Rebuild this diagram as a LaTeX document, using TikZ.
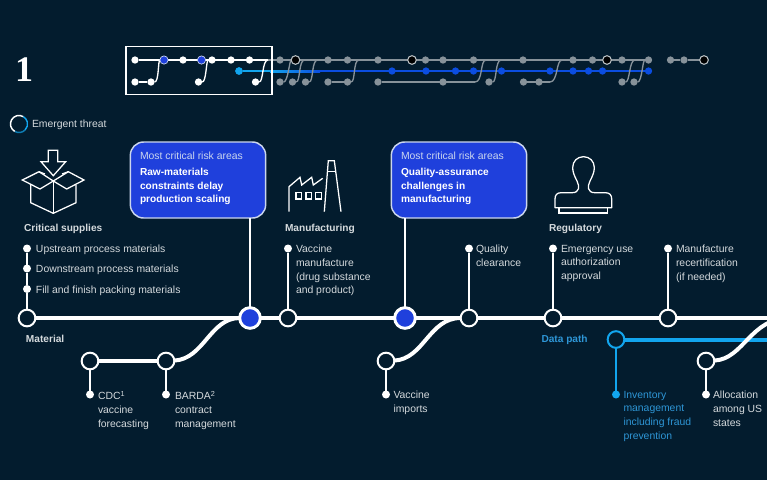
\documentclass[tikz,border=0pt]{standalone}
\usetikzlibrary{backgrounds}
\usepackage{fontspec}
\setmainfont{Liberation Sans}
\newfontfamily\serifnum{Liberation Serif}
\definecolor{bgc}{HTML}{031C2E}
\definecolor{txtc}{HTML}{D5DADD}
\definecolor{cyanc}{HTML}{12A5EE}
\definecolor{cyant}{HTML}{2E96D6}
\definecolor{boxc}{HTML}{1F40DC}
\definecolor{mmgrey}{HTML}{87929A}
\definecolor{mmblue}{HTML}{0B4DE0}
\definecolor{edgec}{HTML}{CBD6EE}
\tikzset{
  every node/.style={inner sep=0,outer sep=0},
  ring/.style={circle,draw=white,fill=bgc,line width=1.5pt,minimum size=12.5pt},
  bluering/.style={circle,draw=white,fill=boxc,line width=2.2pt,minimum size=15.5pt},
  cring/.style={circle,draw=cyanc,fill=bgc,line width=1.5pt,minimum size=12.5pt},
  dotw/.style={circle,fill=white,minimum size=6pt},
  dotc/.style={circle,fill=cyanc,minimum size=6pt},
  mainline/.style={white,line width=3pt},
  stem/.style={white,line width=1.4pt},
  lbl/.style={anchor=north west,align=left,text=txtc,font=\fontsize{7.8}{10.3}\selectfont},
  lblb/.style={anchor=north west,align=left,text=txtc,font=\fontsize{7.6}{10.3}\selectfont\bfseries},
  lblc/.style={lbl,text=cyant},
  riskbox/.style={draw=edgec,fill=boxc,line width=1.1pt,rounded corners=10pt,minimum width=101.5pt,minimum height=57pt},
  icon/.style={white,line width=0.95pt,line join=miter},
  mw/.style={circle,fill=white,minimum size=5.5pt},
  mg/.style={circle,fill=mmgrey,minimum size=5.5pt},
  mb/.style={circle,fill=mmblue,minimum size=5.5pt},
  mc/.style={circle,fill=cyanc,minimum size=5.8pt},
  mhot/.style={circle,fill=boxc,draw=edgec,line width=0.5pt,minimum size=6.2pt},
  mring/.style={circle,fill=black,draw=mmgrey!60!white,line width=0.8pt,minimum size=6.5pt},
  wl/.style={white,line width=1pt},
  gl/.style={mmgrey,line width=1pt},
}
\newcommand{\scurve}[2]{(#1) .. controls +(8,0) and +(-6,0) .. (#2)}
\begin{document}
\begin{tikzpicture}[x=0.75pt,y=-0.75pt]
\useasboundingbox (0,0) rectangle (767,480);

% ---------- minimap
\node[anchor=center,text=white,font=\fontsize{27}{27}\selectfont\serifnum\bfseries] (one) at (24,70) {1};
\foreach \n/\x in {t1/135,t3/183,t5/212,t6/231,t7/249.5}
  \node[mw] (\n) at (\x,60) {};
\node[mhot] (t2) at (164,60) {};
\node[mhot] (t4) at (201.5,60) {};
\foreach \n/\x in {t8/280,t10/328,t11/347.5,t12/378,t14/425.5,t15/443,t16/473.5,t17/523,t18/573,t19/592.5,t21/622,t22/648.5,u1/670.5,u2/684}
  \node[mg] (\n) at (\x,60) {};
\node[mring] (t9) at (295.5,60) {};
\node[mring] (t13) at (412,60) {};
\node[mring] (t20) at (607,60) {};
\node[mring] (u3) at (704,60) {};
\coordinate (ts) at (268,60);
\coordinate (c2) at (304.5,60);
\coordinate (c2b) at (317.5,60);
\coordinate (c3) at (359,60);
\coordinate (c4) at (486,60);
\coordinate (c5) at (501,60);
\coordinate (c6) at (562,60);
\coordinate (c7) at (635,60);
\foreach \n/\x in {b1/135,b2/151,b3/198.5,b4/255.5}
  \node[mw] (\n) at (\x,82) {};
\foreach \n/\x in {b5/280,b6/292.5,b7/305.5,b8/328,b9/347.5,b10/378,b11/443,b12/489,b13/523.5,b14/539,b15/622,b16/634}
  \node[mg] (\n) at (\x,82) {};
\coordinate (bk1) at (475,82);
\coordinate (bk2) at (550,82);
\node[mc] (m0) at (239,71) {};
\coordinate (mA) at (270,71);
\coordinate (mB) at (320,71);
\foreach \n/\x in {m1/392,m2/426,m3/455.5,m4/473.5,m5/501.5,m6/550,m7/573,m8/588.5,m9/602.5,m10/648.5}
  \node[mb] (\n) at (\x,71) {};
\begin{pgfonlayer}{background}
\fill[bgc] (0,0) rectangle (767,480);
\draw[cyanc,line width=1.3pt] (m0) -- (mA);
\shade[left color=cyanc,right color=mmblue] (270,70) rectangle (320,72);
\draw[mmblue,line width=1.5pt] (mB) -- (m10);
\draw[gl] (ts) -- (t22);
\draw[gl] (u1) -- (u2) -- (u3);
\draw[wl] (t1) -- (ts);
\draw[wl] (b1) -- (b2);
\draw[gl] (b8) -- (b9);
\draw[gl] (b10) -- (bk1);
\draw[gl] (b13) -- (bk2);
\draw[wl] \scurve{b2}{t2};
\draw[wl] \scurve{b3}{t5};
\draw[wl] \scurve{b4}{ts};
\draw[gl] \scurve{b5}{t9};
\draw[gl] \scurve{b6}{c2};
\draw[gl] \scurve{b7}{c2b};
\draw[gl] \scurve{b9}{c3};
\draw[gl] \scurve{bk1}{c4};
\draw[gl] \scurve{b12}{c5};
\draw[gl] \scurve{bk2}{c6};
\draw[gl] \scurve{b15}{c7};
\draw[gl] \scurve{b16}{t22};
\end{pgfonlayer}
\node[draw=white,line width=1.4pt,minimum width=109pt,minimum height=36pt] (frame) at (199,70.5) {};

% ---------- legend
\node[circle,minimum size=12.8pt] (threat) at (19,124) {};
\draw[cyanc,line width=1.1pt] (threat.center) ++(-45:6.4pt) arc[start angle=-45,end angle=60,radius=6.4pt];
\draw[cyanc!75!black,line width=1.1pt] (threat.center) ++(-120:6.4pt) arc[start angle=-120,end angle=-45,radius=6.4pt];
\draw[white,line width=1.1pt] (threat.center) ++(60:6.4pt) arc[start angle=60,end angle=240,radius=6.4pt];
\node[lbl,anchor=west] (threatlabel) at (32,125) {Emergent threat};

% ---------- main track
\node[ring] (mat) at (27,318) {};
\node[bluering] (n1) at (250,318) {};
\node[ring] (n2) at (288,318) {};
\node[bluering] (n3) at (405,318) {};
\node[ring] (n4) at (469,318) {};
\node[ring] (n5) at (553,318) {};
\node[ring] (n6) at (668,318) {};
\coordinate (endm) at (775,318);
\coordinate (endc) at (790,318);
\node[ring] (l1) at (90,361) {};
\node[ring] (l2) at (166,361) {};
\node[ring] (l3) at (386,361) {};
\node[ring] (l4) at (706,361) {};
\node[cring] (dp) at (616,339.5) {};
\coordinate (endd) at (775,339.5);
\draw[cyanc,line width=3pt] (dp) -- (endd);
\draw[mainline] (mat) -- (n1);
\draw[mainline] (n1) -- (n2);
\draw[mainline] (n2) -- (n3);
\draw[mainline] (n3) -- (n4);
\draw[mainline] (n4) -- (n5);
\draw[mainline] (n5) -- (n6);
\draw[mainline] (n6) -- (endm);
\draw[mainline] (l1) -- (l2);
\draw[mainline] (l2) .. controls +(38,-2) and +(-40,0) .. (n1);
\draw[mainline] (l3) .. controls +(38,-2) and +(-40,0) .. (n4);
\draw[mainline] (l4) .. controls +(38,-2) and +(-40,0) .. (endc);

% ---------- risk boxes
\node[riskbox] (box1) at (198,180) {};
\node[riskbox] (box2) at (459,180) {};
\draw[stem] (n1) -- (n1 |- box1.south);
\draw[stem] (n3) -- (n3 |- box2.south);
\node[lbl,text=edgec] (b1a) at (140,152) {Most critical risk areas};
\node[lblb,text=white] (b1b) at (140,168) {Raw-materials\\constraints delay\\production scaling};
\node[lbl,text=edgec] (b2a) at (401,152) {Most critical risk areas};
\node[lblb,text=white] (b2b) at (401,168) {Quality-assurance\\challenges in\\manufacturing};

% ---------- upper stems and labels
\node[dotw] (s1) at (27,248.5) {};
\node[dotw] (s2) at (27,268.5) {};
\node[dotw] (s3) at (27,289) {};
\draw[stem] (s1) -- (s2);
\draw[stem] (s2) -- (s3);
\draw[stem] (s3) -- (mat);
\node[dotw] (s4) at (288,248.5) {};
\node[dotw] (s5) at (469,248.5) {};
\node[dotw] (s6) at (553,248.5) {};
\node[dotw] (s7) at (668,248.5) {};
\draw[stem] (s4) -- (n2);
\draw[stem] (s5) -- (n4);
\draw[stem] (s6) -- (n5);
\draw[stem] (s7) -- (n6);
\node[lblb] (h1) at (24,224.5) {Critical supplies};
\node[lbl] (x1) at (36,245) {Upstream process materials};
\node[lbl] (x2) at (36,265) {Downstream process materials};
\node[lbl] (x3) at (36,285.5) {Fill and finish packing materials};
\node[lblb] (h2) at (285,224.5) {Manufacturing};
\node[lbl] (x4) at (296,245) {Vaccine\\manufacture\\(drug substance\\and product)};
\node[lbl] (x5) at (476,245) {Quality\\clearance};
\node[lblb] (h3) at (549,224.5) {Regulatory};
\node[lbl] (x6) at (561,245) {Emergency use\\authorization\\approval};
\node[lbl] (x7) at (676,245) {Manufacture\\recertification\\(if needed)};

% ---------- lower stems and labels
\node[lblb] (h4) at (26,335.5) {Material};
\node[lblb,text=cyant] (h5) at (541.5,335.5) {Data path};
\node[dotw] (d1) at (90,394.5) {};
\node[dotw] (d2) at (166,394.5) {};
\node[dotw] (d3) at (386,394.5) {};
\node[dotc] (d4) at (616,394.5) {};
\node[dotw] (d5) at (706,394.5) {};
\draw[stem] (l1) -- (d1);
\draw[stem] (l2) -- (d2);
\draw[stem] (l3) -- (d3);
\draw[cyanc,line width=1.4pt] (dp) -- (d4);
\draw[stem] (l4) -- (d5);
\node[lbl] (y1) at (98,391) {CDC\textsuperscript{1}\\vaccine\\forecasting};
\node[lbl] (y2) at (175,391) {BARDA\textsuperscript{2}\\contract\\management};
\node[lbl] (y3) at (393.5,391) {Vaccine\\imports};
\node[lblc] (y4) at (623.5,391) {Inventory\\management\\including fraud\\prevention};
\node[lbl] (y5) at (713,391) {Allocation\\among US\\states};

% ---------- icons
\draw[icon] (48.3,150.3) -- (57.7,150.3) -- (57.7,161.7) -- (65.7,161.7) -- (53.3,175.7) -- (41,161.7) -- (48.3,161.7) -- cycle;
\draw[icon] (53.3,181) -- (40,189) -- (22.3,180) -- (39,171.7) -- (45,174);
\draw[icon] (53.3,181) -- (66.7,189) -- (84,180) -- (68.3,171.7) -- (62,174);
\draw[icon] (39,171.7) -- (53.3,181) -- (68.3,171.7);
\draw[icon] (30.7,185) -- (30.7,202.7) -- (53.3,213.3) -- (76,202.7) -- (76,185);
\draw[icon] (53.3,181) -- (53.3,213.3);
\draw[icon] (289,211.7) -- (289,186.7) -- (300,177.3) -- (301.7,185) -- (311.7,177.3) -- (313.3,185) -- (322.7,178.3);
\draw[icon] (296,192.7) rectangle (301.7,199);
\draw[icon] (306,192.7) rectangle (311.7,199);
\draw[icon] (315.7,192.7) rectangle (321.3,199);
\draw[icon] (324.3,211.7) -- (328.3,160.7) -- (334.3,160.7) -- (341,211.7);
\draw[icon] (327.5,171.7) -- (335.5,171.7);
\draw[icon,line join=round] (555,207.7) -- (555,199) .. controls (555,195) and (557,192.7) .. (561,192.7)
  -- (572,192.7) .. controls (580,192.7) and (579.5,186) .. (577,181)
  .. controls (574,175) and (572.7,172) .. (572.7,167.5)
  .. controls (572.7,161) and (577.5,156.7) .. (583.5,156.7)
  .. controls (589.5,156.7) and (594.3,161) .. (594.3,167.5)
  .. controls (594.3,172) and (593,175) .. (590,181)
  .. controls (587.5,186) and (587,192.7) .. (595,192.7)
  -- (605.5,192.7) .. controls (609.5,192.7) and (611.7,195) .. (611.7,199)
  -- (611.7,207.7) -- cycle;
\draw[icon] (559,207.7) -- (559,213) -- (607.7,213) -- (607.7,207.7);
\end{tikzpicture}
\end{document}
